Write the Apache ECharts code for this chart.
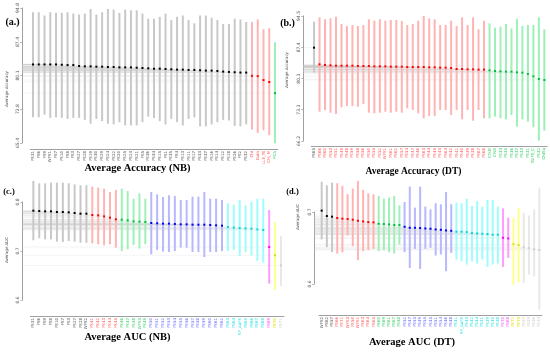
<!DOCTYPE html>
<html><head><meta charset="utf-8">
<script src="https://cdn.jsdelivr.net/npm/echarts@6/dist/echarts.min.js"></script>
<style>html,body{margin:0;padding:0;background:#fff}#c{width:550px;height:353px}</style>
</head><body><div id="c"></div><script>
// ---------- Panel (a): Average Accuracy (NB) ----------
const catsA = ['FS31','FS6','FS9','WFS1','FS7','FS10','FS8','FS3','FS27','FS28','FS19','FS30','FS29','FS24','FS22','FS20','FS25','FS23','FS21','FS5','FS36','FS34','FS15','FS1','FS35','FS4','FS13','FS11','FS17','FS33','FS37','FS16','FS14','FS12','FS18','FS26','FS2','FS32','Chi','Gain','LLE_fit','Cfs_M','PCA'];
const groupA = ['k','k','k','k','k','k','k','k','k','k','k','k','k','k','k','k','k','k','k','k','k','k','k','k','k','k','k','k','k','k','k','k','k','k','k','k','k','k','r','r','r','r','g'];
const meanA = [82.51,82.51,82.51,82.51,82.51,82.44,82.37,82.37,82.16,82.09,82.09,82.02,82.02,81.95,81.95,81.87,81.87,81.87,81.80,81.73,81.66,81.59,81.59,81.52,81.45,81.38,81.38,81.31,81.31,81.24,81.17,81.17,81.09,80.95,80.88,80.81,80.74,80.74,80.03,79.96,79.11,78.68,76.26];
const highA = [93.88,93.88,93.17,93.88,93.74,93.74,93.88,93.59,93.38,93.59,94.59,93.38,93.88,94.59,94.45,93.74,94.45,94.30,94.30,93.59,92.46,92.46,92.88,93.59,92.17,92.88,93.17,92.17,91.46,93.17,93.17,92.67,92.17,91.32,91.32,92.46,92.32,91.75,91.75,92.32,90.18,90.40,87.34];
const lowA = [71.01,71.01,71.58,70.87,71.01,70.87,70.65,70.87,70.87,70.44,69.59,70.65,70.16,69.59,69.45,69.94,69.23,69.23,69.23,69.94,71.15,70.87,70.16,69.45,70.65,69.94,69.23,70.65,71.01,69.02,69.02,69.45,69.94,70.44,70.30,69.09,69.02,69.45,68.31,67.60,68.17,67.10,65.33];
const ticksA = [65.4,72.8,80.1,87.4,94.8];

// ---------- Panel (b): Average Accuracy (DT) ----------
const catsB = ['FS65','FS66','FS60','FS53','FS51','FS49','FS48','FS59','FS58','FS56','FS50','FS55','FS52','WFS1','FS61','FS62','FS57','FS54','FS47','FS46','FS63','FS44','FS45','FS43','FS64','FS42','FS41','FS40','FS39','FS38','FS67','FS68','CfsM','CfsB','FS34','FS35','FS36','FS37','FS33','FS31','SUFS_C','FS32','ChiSq'];
const groupB = ['k','r','r','r','r','r','r','r','r','r','r','r','r','r','r','r','r','r','r','r','r','r','r','r','r','r','r','r','r','r','r','r','g','g','g','g','g','g','g','g','g','g','g'];
const meanB = [87.33,83.56,83.41,83.33,83.25,83.25,83.25,83.25,83.18,83.18,83.18,83.10,83.10,83.10,83.03,83.03,83.03,82.95,82.95,82.95,82.95,82.88,82.88,82.80,82.80,82.73,82.50,82.50,82.42,82.42,82.35,82.35,82.20,82.05,81.97,81.90,81.90,81.75,81.67,81.37,80.84,80.24,80.01];
const highB = [93.22,94.20,93.75,93.97,94.35,92.69,92.24,92.46,92.24,92.46,93.75,93.44,93.75,93.44,93.59,93.59,93.37,92.46,92.69,93.44,94.50,93.97,93.75,92.46,92.46,93.44,92.24,94.20,92.46,94.20,91.48,93.44,92.84,91.86,92.10,92.69,91.71,93.90,92.24,92.46,92.46,94.20,91.48];
const lowB = [81.67,72.84,73.22,72.61,72.31,73.82,74.12,74.12,73.97,74.57,72.61,72.46,72.61,72.84,72.61,72.84,72.61,73.59,73.22,72.46,71.33,71.86,71.86,73.22,73.22,72.09,73.22,71.10,73.22,70.80,73.22,71.33,71.33,71.71,71.33,71.10,72.09,69.44,71.10,70.57,69.29,66.27,68.54];
const ticksB = [66.2,73.3,80.3,87.4,94.5];

// ---------- Panel (c): Average AUC (NB) ----------
const catsC = ['FS31','FS6','FS9','FS8','FS10','FS7','FS3','FS27','FS28','WFS2','FS41','FS42','FS43','FS44','FS45','FS46','FS47','FS48','WFS3','FS49','FS50','FS51','FS52','FS53','FS54','FS55','FS56','FS57','FS58','FS59','FS60','FS61','FS62','FS63','FS64','SF_AuFS','FS65','FS66','FS67','FS68','FS69','FS70','FS71'];
const groupC = ['k','k','k','k','k','k','k','k','k','k','r','r','r','r','r','g','g','g','g','g','b','b','b','b','b','b','b','b','b','b','b','b','b','c','c','c','c','c','c','c','m','y','e'];
const meanC = [0.7823,0.7816,0.7809,0.7809,0.7796,0.7796,0.7789,0.7776,0.7762,0.7762,0.7735,0.7728,0.7707,0.7680,0.7646,0.7639,0.7626,0.7605,0.7599,0.7592,0.7571,0.7565,0.7558,0.7558,0.7551,0.7544,0.7544,0.7537,0.7537,0.7537,0.7531,0.7524,0.7517,0.7490,0.7476,0.7469,0.7462,0.7456,0.7442,0.7429,0.7082,0.6912,0.6707];
const highC = [0.8429,0.8381,0.8381,0.8395,0.8395,0.8395,0.8381,0.8360,0.8340,0.8340,0.8313,0.8293,0.8272,0.8204,0.8245,0.8272,0.8224,0.8068,0.8177,0.8068,0.8204,0.8156,0.8102,0.8136,0.8122,0.8041,0.8041,0.8109,0.8109,0.8204,0.8068,0.8068,0.8041,0.7973,0.7946,0.8041,0.7932,0.8007,0.8068,0.8068,0.7837,0.7592,0.7306];
const lowC = [0.7218,0.7259,0.7238,0.7238,0.7191,0.7184,0.7204,0.7191,0.7170,0.7170,0.7156,0.7136,0.7116,0.7136,0.7068,0.6999,0.7034,0.7122,0.7048,0.7136,0.6932,0.7020,0.6986,0.6979,0.6999,0.7068,0.7068,0.6979,0.6979,0.6877,0.6979,0.6979,0.6999,0.6999,0.7020,0.6898,0.6979,0.6911,0.6796,0.6762,0.6333,0.6204,0.6286];
const ticksC = [0.6,0.7,0.8];

// ---------- Panel (d): Average AUC (DT) ----------
const catsD = ['WFS2','FS62','FS57','FS66','FS71','WFS3','FS50','WFS1','FS63','FS64','FS65','FS60','FS69','FS61','FS67','FS58','FS52','FS47','FS53','FS49','FS55','FS45','FS51','FS54','FS46','FS48','FS41','SF_AuFS','FS43','FS42','FS44','FS31','FS39','FS40','FS38','FS70','FS68','FS72','FS73','FS37','FS35','FS36','FS34'];
const groupD = ['k','k','k','r','r','r','r','r','r','r','r','g','g','g','g','g','b','b','b','b','b','b','b','b','b','b','c','c','c','c','c','c','c','c','c','m','m','y','y','e','e','e','e'];
const meanD = [0.7019,0.6944,0.6935,0.6916,0.6907,0.6902,0.6893,0.6879,0.6870,0.6860,0.6856,0.6837,0.6833,0.6828,0.6819,0.6819,0.6795,0.6781,0.6781,0.6777,0.6772,0.6767,0.6758,0.6753,0.6744,0.6739,0.6726,0.6726,0.6721,0.6707,0.6702,0.6698,0.6693,0.6684,0.6684,0.6642,0.6633,0.6553,0.6539,0.6512,0.6498,0.6484,0.6474];
const highD = [0.7419,0.7372,0.7409,0.7400,0.7363,0.7247,0.7326,0.7433,0.7307,0.7260,0.7247,0.7223,0.7186,0.7200,0.7223,0.7093,0.7139,0.7353,0.7061,0.7353,0.7074,0.7037,0.7121,0.7107,0.7279,0.7107,0.7130,0.7121,0.7186,0.7084,0.7153,0.7074,0.7167,0.7167,0.7074,0.7051,0.6921,0.6921,0.7061,0.6991,0.6953,0.7037,0.7340];
const lowD = [0.6619,0.6512,0.6442,0.6423,0.6442,0.6674,0.6526,0.6330,0.6456,0.6470,0.6488,0.6456,0.6470,0.6442,0.6423,0.6549,0.6442,0.6223,0.6488,0.6209,0.6488,0.6502,0.6395,0.6409,0.6177,0.6432,0.6340,0.6316,0.6270,0.6316,0.6284,0.6340,0.6237,0.6270,0.6284,0.6237,0.6363,0.5991,0.6023,0.6014,0.6130,0.6107,0.5642];
const ticksD = [0.6,0.7];

// ---------- styling ----------
const COLORS = {
  k:{bar:'#c8c8c8', pt:'#000000', lab:'#555555'},
  r:{bar:'#ffb4b4', pt:'#ff0000', lab:'#ff5555'},
  g:{bar:'#9ff0b8', pt:'#00c040', lab:'#33cc66'},
  b:{bar:'#b8b8ff', pt:'#0000ee', lab:'#6666ff'},
  c:{bar:'#9ffcfc', pt:'#00d8d8', lab:'#22dddd'},
  m:{bar:'#ff9cff', pt:'#ff00ff', lab:'#ff44ff'},
  y:{bar:'#ffff8c', pt:'#e0e000', lab:'#e0e000'},
  e:{bar:'#e8e8e8', pt:'#cfcfcf', lab:'#cccccc'}
};

const panels = [
  {cats:catsA, grp:groupA, mean:meanA, hi:highA, lo:lowA, ticks:ticksA, min:65.4, max:94.8, left:30.1, width:247.8, top:5, height:138, yOff:8, xOff:6},
  {cats:catsB, grp:groupB, mean:meanB, hi:highB, lo:lowB, ticks:ticksB, min:66.2, max:94.5, left:311.3, width:235.8, top:16, height:125, yOff:8, xOff:5},
  {cats:catsC, grp:groupC, mean:meanC, hi:highC, lo:lowC, ticks:ticksC, min:0.6, max:0.8, left:30.4, width:253.5, top:202, height:98, yOff:8, xOff:16},
  {cats:catsD, grp:groupD, mean:meanD, hi:highD, lo:lowD, ticks:ticksD, min:0.6, max:0.7, left:319.1, width:222.8, top:212, height:72, yOff:5, xOff:31}
];

const grids = [], xAxes = [], yAxes = [], series = [];
panels.forEach((p, k) => {
  grids.push({left:p.left, top:p.top, width:p.width, height:p.height});
  xAxes.push({
    gridIndex:k, type:'category', data:p.cats, offset:p.xOff,
    axisLine:{lineStyle:{color:'#888', width:0.8}},
    axisTick:{alignWithLabel:true, length:2, lineStyle:{color:'#888', width:0.6}},
    axisLabel:{interval:0, rotate:90, fontSize:4, margin:2, fontFamily:'DejaVu Sans',
      color:(v, idx) => COLORS[p.grp[idx]].lab},
    splitLine:{show:false}
  });
  yAxes.push({
    gridIndex:k, type:'value', min:p.min, max:p.max, offset:p.yOff,
    splitLine:{show:false},
    axisLine:{show:true, lineStyle:{color:'#888', width:0.8}},
    axisTick:{show:true, length:2, customValues:p.ticks, lineStyle:{color:'#888', width:0.6}},
    axisLabel:{customValues:p.ticks, rotate:90, fontSize:4.5, margin:2, color:'#555', fontFamily:'DejaVu Sans'}
  });
  const data = p.cats.map((c, i) => [i, p.lo[i], p.hi[i], p.mean[i]]);
  series.push({
    type:'custom', xAxisIndex:k, yAxisIndex:k, z:1, silent:true, clip:false,
    encode:{x:0, y:[1,2,3]}, data:data,
    renderItem:(params, api) => {
      const i = api.value(0);
      const pt = api.coord([i, api.value(3)]);
      const x0 = params.coordSys.x - p.yOff;
      return {type:'line', shape:{x1:x0, y1:pt[1], x2:pt[0], y2:pt[1]},
        style:{stroke:'#c8c8c8', lineWidth:0.5, opacity:0.4}};
    }
  });
  series.push({
    type:'custom', xAxisIndex:k, yAxisIndex:k, z:2, silent:true, clip:false,
    encode:{x:0, y:[1,2,3]}, data:data,
    renderItem:(params, api) => {
      const i = api.value(0);
      const a = api.coord([i, api.value(1)]);
      const b = api.coord([i, api.value(2)]);
      const m = api.coord([i, api.value(3)]);
      const col = COLORS[p.grp[params.dataIndex]];
      return {type:'group', children:[
        {type:'line', shape:{x1:a[0], y1:a[1], x2:b[0], y2:b[1]}, style:{stroke:col.bar, lineWidth:2}},
        {type:'rect', shape:{x:m[0]-1, y:m[1]-1, width:2, height:2}, style:{fill:col.pt}}
      ]};
    }
  });
});

const serif = '"Liberation Serif", "DejaVu Serif", serif';
function txt(t, x, y, size, opts) {
  return Object.assign({type:'text', x:x, y:y, silent:true,
    style:{text:t, font:'bold ' + size + 'px ' + serif, fill:'#000', textAlign:'center', textVerticalAlign:'middle'}}, opts || {});
}
function yname(t, x, y) {
  return {type:'text', x:x, y:y, rotation:Math.PI/2, silent:true,
    style:{text:t, font:'4px "DejaVu Sans"', fill:'#444', textAlign:'center', textVerticalAlign:'middle'}};
}

const chart = echarts.init(document.getElementById('c'), null, {renderer:'canvas'});
chart.setOption({
  animation:false,
  backgroundColor:'#fff',
  grid:grids, xAxis:xAxes, yAxis:yAxes, series:series,
  graphic:[
    txt('(a.)', 12.5, 22, 10),
    txt('(b.)', 287.5, 23, 10),
    txt('(c.)', 9, 191.5, 8.5),
    txt('(d.)', 292.5, 191.5, 8.5),
    txt('Average Accuracy (NB)', 137.5, 168.5, 10.5),
    txt('Average Accuracy (DT)', 413.5, 171.5, 9.5),
    txt('Average AUC (NB)', 127.5, 337, 10.5),
    txt('Average AUC (DT)', 412, 342.5, 10.5),
    yname('Average Accuracy', 7, 89),
    yname('Average Accuracy', 287, 70),
    yname('Average AUC', 7, 250),
    yname('Average AUC', 298, 217)
  ]
});
</script></body></html>
